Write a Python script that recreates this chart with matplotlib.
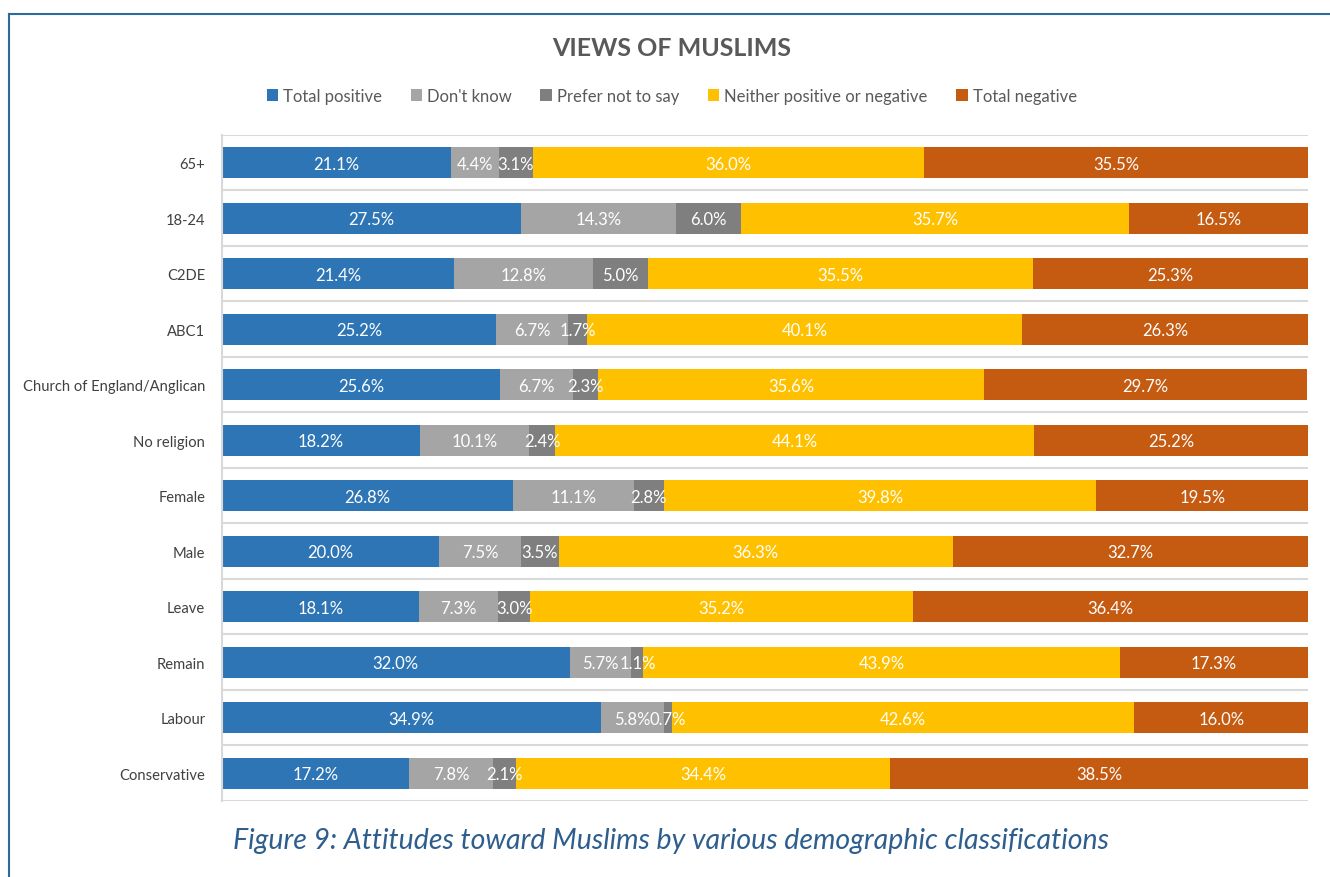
import matplotlib.pyplot as plt
import numpy as np
from matplotlib.patches import Patch
from matplotlib.lines import Line2D

plt.rcParams['font.family'] = ['Lato', 'DejaVu Sans']

# data, top row first
groups = ['65+', '18-24', 'C2DE', 'ABC1', 'Church of England/Anglican', 'No religion',
          'Female', 'Male', 'Leave', 'Remain', 'Labour', 'Conservative']
total_positive = [21.1, 27.5, 21.4, 25.2, 25.6, 18.2, 26.8, 20.0, 18.1, 32.0, 34.9, 17.2]
dont_know = [4.4, 14.3, 12.8, 6.7, 6.7, 10.1, 11.1, 7.5, 7.3, 5.7, 5.8, 7.8]
prefer_not = [3.1, 6.0, 5.0, 1.7, 2.3, 2.4, 2.8, 3.5, 3.0, 1.1, 0.7, 2.1]
neither = [36.0, 35.7, 35.5, 40.1, 35.6, 44.1, 39.8, 36.3, 35.2, 43.9, 42.6, 34.4]
total_negative = [35.5, 16.5, 25.3, 26.3, 29.7, 25.2, 19.5, 32.7, 36.4, 17.3, 16.0, 38.5]

series = [total_positive, dont_know, prefer_not, neither, total_negative]
names = ['Total positive', "Don't know", 'Prefer not to say',
         'Neither positive or negative', 'Total negative']
colors = ['#2E75B6', '#A5A5A5', '#7F7F7F', '#FFC000', '#C55A11']

fig = plt.figure(figsize=(13.3, 8.78), dpi=100)
ax = fig.add_axes([0.1669, 0.0866, 0.9835 - 0.1669, 0.8451 - 0.0866])

y = np.arange(len(groups))
left = np.zeros(len(groups))
for vals, c in zip(series, colors):
    vals = np.array(vals)
    ax.barh(y, vals, left=left, height=0.56, color=c, edgecolor='none')
    for yi, l, v in zip(y, left, vals):
        ax.text(l + v / 2, yi + 0.02, f'{v:.1f}%', ha='center', va='center',
                color='white', fontsize=12)
    left = left + vals

ax.set_xlim(0, 100)
ax.set_ylim(len(groups) - 0.5, -0.5)
ax.set_yticks(y)
ax.set_yticklabels(groups, fontsize=10.6, color='#404040')
ax.tick_params(axis='y', length=0, pad=12)
ax.set_xticks([])
for b in np.arange(-0.5, len(groups), 1.0):
    ax.axhline(b, color='#D9D9D9', lw=1.5, zorder=0)
for s in ['top', 'right', 'bottom']:
    ax.spines[s].set_visible(False)
ax.spines['left'].set_color('#D9D9D9')
ax.spines['left'].set_linewidth(1.5)

fig.text(0.505, 0.945, 'VIEWS OF MUSLIMS', ha='center', va='center',
         fontsize=18, fontweight='bold', color='#595959')

handles = [Patch(facecolor=c, edgecolor='none') for c in colors]
fig.legend(handles, names, loc='center', bbox_to_anchor=(0.505, 0.890), ncol=5,
           frameon=False, fontsize=12, handlelength=0.7, handleheight=0.7,
           handletextpad=0.3, columnspacing=1.7, labelcolor='#595959')

fig.text(0.5045, 0.042, 'Figure 9: Attitudes toward Muslims by various demographic classifications',
         ha='center', va='center', fontsize=20.5, style='italic', color='#2E5E8E')

# outer frame lines (top and left)
fig.add_artist(Line2D([9 / 1330, 1], [1 - 15 / 878, 1 - 15 / 878], color='#2E6A9A', lw=1.5))
fig.add_artist(Line2D([9 / 1330, 9 / 1330], [0, 1 - 15 / 878], color='#2E6A9A', lw=1.5))

fig.savefig('out.png', dpi=100)
